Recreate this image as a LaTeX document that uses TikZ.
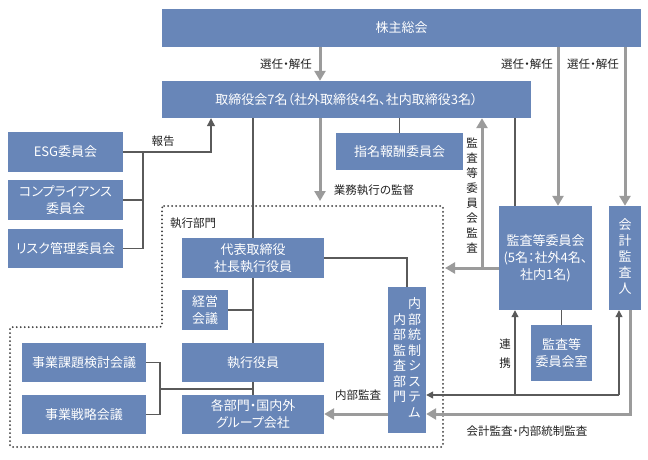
\documentclass[tikz,border=0pt]{standalone}
\usepackage{fontspec}
\setmainfont{Noto Sans CJK JP}[RawFeature={+palt}]
\usetikzlibrary{arrows.meta}
\definecolor{boxblue}{HTML}{6886B8}
\definecolor{thickgray}{HTML}{9B9B9B}
\definecolor{thingray}{HTML}{5A5A5A}
\definecolor{dotgray}{HTML}{3A3A3A}
\definecolor{lbltext}{HTML}{222222}
\newcommand\vcol[1]{\begin{tabular}[c]{@{}c@{}}#1\end{tabular}}
\begin{document}
\begin{tikzpicture}[x=1pt,y=-1pt,
  box/.style={fill=boxblue,text=white,inner sep=0pt,align=center,font=\fontsize{13}{17}\selectfont},
  lbl/.style={text=lbltext,inner sep=0pt,align=center,font=\fontsize{11.5}{14}\selectfont},
  thickarr/.style={draw=thickgray,line width=3pt,-{Triangle[width=11pt,length=10pt]}},
  thinl/.style={draw=thingray,line width=1.2pt},
  thinarr/.style={draw=thingray,line width=1.2pt,-{Triangle[width=7pt,length=7pt]}},
  dotline/.style={draw=dotgray,line width=2pt,dash pattern=on 0pt off 4pt,line cap=round,rounded corners=2pt}]
\useasboundingbox[fill=white] (0,0) rectangle (648,460);

% boxes
\node[box,minimum width=479pt,minimum height=38pt] (sh) at (401.5,28) {株主総会};
\node[box,minimum width=369pt,minimum height=37pt] (bod) at (346.5,99.5) {取締役会7名（社外取締役4名、社内取締役3名）};
\node[box,minimum width=115pt,minimum height=40pt] (esg) at (65.5,152) {ESG委員会};
\node[box,minimum width=115pt,minimum height=40pt] (comp) at (65.5,200) {コンプライアンス\\委員会};
\node[box,minimum width=115pt,minimum height=39pt] (risk) at (65.5,248.5) {リスク管理委員会};
\node[box,minimum width=127pt,minimum height=37pt] (nom) at (399.5,151.5) {指名報酬委員会};
\node[box,minimum width=93pt,minimum height=104pt] (ac) at (545.5,258) {監査等委員会\\(5名：社外4名、\\社内1名)};
\node[box,minimum width=32pt,minimum height=104pt,font=\fontsize{13}{16}\selectfont] (aud) at (625,258) {\vcol{会\\計\\監\\査\\人}};
\node[box,minimum width=61pt,minimum height=56pt] (acr) at (561.5,353) {監査等\\委員会室};
\node[box,minimum width=38pt,minimum height=146pt,font=\fontsize{13}{15.5}\selectfont] (ic) at (407,360) {\vcol{内\\部\\監\\査\\部\\門}\hspace{2pt}\vcol{内\\部\\統\\制\\シ\\ス\\テ\\ム}};
\node[box,minimum width=142pt,minimum height=40pt] (ceo) at (253,258) {代表取締役\\社長執行役員};
\node[box,minimum width=46pt,minimum height=40pt] (mgmt) at (205,310) {経営\\会議};
\node[box,minimum width=142pt,minimum height=39pt] (eo) at (253,362.5) {執行役員};
\node[box,minimum width=142pt,minimum height=39pt] (dept) at (253,414.5) {各部門・国内外\\グループ会社};
\node[box,minimum width=124pt,minimum height=39pt] (biz1) at (84,362.5) {事業課題検討会議};
\node[box,minimum width=124pt,minimum height=39pt] (biz2) at (84,414.5) {事業戦略会議};

% dotted execution area
\draw[dotline] (162,206) -- (443,206) -- (443,447) -- (10,447) -- (10,327) -- (162,327) -- cycle;
\node[lbl,anchor=west] (exl) at (170,223) {執行部門};

% labels
\node[lbl] (l1) at (286,64) {選任・解任};
\node[lbl] (l2) at (527,64) {選任・解任};
\node[lbl] (l3) at (593,64) {選任・解任};
\node[lbl] (lrep) at (163,141) {報告};
\node[lbl] (lsup) at (374,190) {業務執行の監督};
\node[lbl,font=\fontsize{11.5}{15}\selectfont] (lacaud) at (472,197) {\vcol{監\\査\\等\\委\\員\\会\\監\\査}};
\node[lbl,font=\fontsize{11.5}{19}\selectfont] (lren) at (505,354) {\vcol{連\\携}};
\node[lbl] (lia) at (358,395) {内部監査};
\node[lbl] (laa) at (527,431) {会計監査・内部統制監査};

% coordinates
\coordinate (c320) at (320,0);
\coordinate (c558) at (558,0);
\coordinate (sup) at (320,201);
\coordinate (c515) at (515,0);
\coordinate (acl) at (445,268);
\coordinate (c482) at (482,268);
\coordinate (rep) at (211,152);
\coordinate (bx) at (143,0);
\coordinate (bz) at (160,389);
\coordinate (rk) at (619,395);
\coordinate (rk2) at (515,395);
\coordinate (aa) at (630,414);

% thick gray arrows
\draw[thickarr] (sh.south -| c320) -- (bod.north -| c320);
\draw[thickarr] (sh.south -| c558) -- (ac.north -| c558);
\draw[thickarr] (sh.south -| aud.north) -- (aud.north);
\draw[thickarr] (bod.south -| sup) -- (sup);
\draw[thickarr] (ac.west |- acl) -- (acl);
\draw[thickarr] (c482) -- (bod.south -| c482);
\draw[thickarr] (aud.south -| aa) -- (aa) -- (ic.east |- aa);
\draw[thickarr] (ic.west |- aa) -- (dept.east |- aa);

% thin lines
\draw[thinarr,-{Triangle[width=8pt,length=8pt]}] (esg.east) -- (rep) -- (rep |- bod.south);
\draw[thinl] (esg.east -| bx) -- (risk.east -| bx);
\draw[thinl] (comp.east) -- (comp.east -| bx);
\draw[thinl] (risk.east) -- (risk.east -| bx);
\draw[thinl] (bod.south -| ceo.north) -- (ceo.north);
\draw[thinl] (ceo.south) -- (eo.north);
\draw[thinl] (eo.south) -- (dept.north);
\draw[thinl] (mgmt.east) -- (mgmt.east -| ceo.center);
\draw[thinl] (bod.south -| nom.north) -- (nom.north);
\draw[thinl] (bod.south -| c515) -- (ac.north -| c515);
\draw[thinl] (ac.south -| acr.north) -- (acr.north);
\draw[thinl] (ceo.east) -- (ceo.east -| ic.north) -- (ic.north);
\draw[thinl] (biz1.east) -- (biz1.east -| bz) -- (biz2.east -| bz) -- (biz2.east);
\draw[thinl] (bz) -- (bz -| eo.south);
\draw[thinarr] (rk) -- (ic.east |- rk);
\draw[thinarr] (rk) -- (aud.south -| rk);
\draw[thinarr] (rk2) -- (ac.south -| rk2);
\end{tikzpicture}
\end{document}
